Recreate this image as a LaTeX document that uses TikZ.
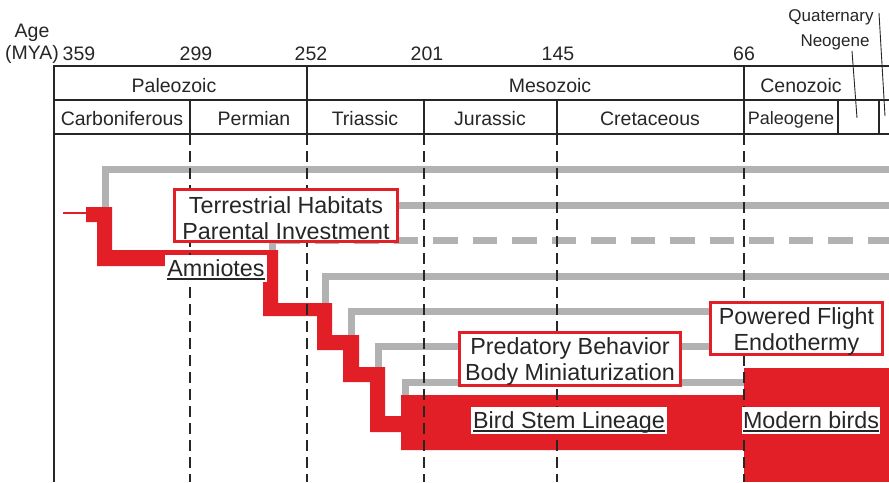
\documentclass[tikz,border=0pt]{standalone}
\usepackage{fontspec}
\setmainfont{Liberation Sans}
\definecolor{ink}{RGB}{38,38,38}
\definecolor{rd}{RGB}{226,30,38}
\definecolor{gbar}{RGB}{178,178,178}
\newcommand\myul[1]{\setbox0\hbox{#1}\rlap{\rule[-3.5pt]{\wd0}{1.6pt}}\box0}
\begin{document}
\begin{tikzpicture}[x=1pt,y=-1pt,
  txt/.style={text=ink, inner sep=0pt, anchor=base, font=\fontsize{19.5}{22}\selectfont},
  smalltxt/.style={text=ink, inner sep=0pt, anchor=base, font=\fontsize{17}{20}\selectfont},
  frame/.style={draw=ink, line width=2pt},
  leader/.style={draw=ink, line width=0.9pt},
  era/.style={draw=ink, line width=1.7pt, dash pattern=on 11pt off 6pt},
  branch/.style={draw=gbar, line width=7pt},
  boxlab/.style={draw=rd, line width=3pt, fill=white, inner sep=0pt},
  boxtext/.style={text=ink, align=center, inner sep=0pt, font=\fontsize{23.3}{26}\selectfont},
  clade/.style={fill=white, inner sep=0pt},
  cladetext/.style={text=ink, inner sep=0pt, anchor=base, font=\fontsize{23.3}{26}\selectfont}
]
\useasboundingbox (0,0) rectangle (889,482);

% ---------- gray side branches ----------
\draw[branch] (105,210) -- (105,169) -- (889,169);
\draw[branch] (390,205) -- (889,205);
\draw[branch] (272,253) -- (272,240);
\draw[branch, dash pattern=on 24.5pt off 15pt, dash phase=36.5pt] (272,240) -- (889,240);
\draw[branch] (325,306) -- (325,276) -- (889,276);
\draw[branch] (351,338) -- (351,311) -- (709,311);
\draw[branch] (378,370) -- (378,346) -- (709,346);
\draw[branch] (405,398) -- (405,382) -- (744,382);

% ---------- red lineage ----------
\draw[rd, line width=2.5pt] (63,213) -- (87,213);
\fill[rd] (86,207) -- (112,207) -- (112,250) -- (278,250) -- (278,303) -- (332,303)
  -- (332,335) -- (359,335) -- (359,367) -- (385,367) -- (385,416) -- (401,416)
  -- (401,395) -- (744,395) -- (744,450) -- (401,450) -- (401,432) -- (370,432)
  -- (370,382) -- (343,382) -- (343,350) -- (317,350) -- (317,316) -- (263,316)
  -- (263,266) -- (97,266) -- (97,222) -- (86,222) -- cycle;
\fill[rd] (744,368) rectangle (889,482);

% ---------- time boundaries ----------
\draw[era] (190,134) -- (190,482);
\draw[era] (307,134) -- (307,482);
\draw[era] (424,134) -- (424,482);
\draw[era] (557,134) -- (557,482);
\draw[era] (744,134) -- (744,482);

% ---------- header table ----------
\draw[frame] (54,66) -- (889,66);
\draw[frame] (54,100) -- (889,100);
\draw[frame] (54,134) -- (889,134);
\draw[frame] (54,65) -- (54,482);
\draw[frame] (307,66) -- (307,134);
\draw[frame] (744,66) -- (744,134);
\draw[frame] (190,100) -- (190,134);
\draw[frame] (424,100) -- (424,134);
\draw[frame] (557,100) -- (557,134);
\draw[frame] (838,100) -- (838,134);
\draw[frame] (879,100) -- (879,134);

\node[txt] (age) at (32,37) {Age};
\node[txt] (mya) at (32,59) {(MYA)};
\node[txt] (n359) at (79,60) {359};
\node[txt] (n299) at (196,60) {299};
\node[txt] (n252) at (311,60) {252};
\node[txt] (n201) at (427,60) {201};
\node[txt] (n145) at (558,60) {145};
\node[txt] (n66) at (744,60) {66};

\node[txt] (paleozoic) at (174,92) {Paleozoic};
\node[txt] (mesozoic) at (550,92) {Mesozoic};
\node[txt] (cenozoic) at (801,92) {Cenozoic};

\node[txt] (carb) at (122,125) {Carboniferous};
\node[txt] (perm) at (254,125) {Permian};
\node[txt] (tria) at (365,125) {Triassic};
\node[txt] (jura) at (490,125) {Jurassic};
\node[txt] (cret) at (650,125) {Cretaceous};
\node[txt, font=\fontsize{18}{20}\selectfont] (paleog) at (791,124) {Paleogene};

\node[smalltxt] (quat) at (831,21) {Quaternary};
\node[smalltxt] (neog) at (835,46) {Neogene};
\coordinate (quatA) at (879,13);
\coordinate (quatB) at (885,116);
\coordinate (neogA) at (852,51);
\coordinate (neogB) at (857,118);
\draw[leader] (quatA) -- (quatB);
\draw[leader] (neogA) -- (neogB);

% ---------- trait boxes ----------
\node[boxlab, minimum width=223pt, minimum height=52pt] (terr) at (286,215.5) {};
\node[boxtext] (terrT) at ([yshift=-2.5pt]terr.center) {Terrestrial Habitats\\Parental Investment};
\node[boxlab, minimum width=221pt, minimum height=53pt] (pred) at (570,359) {};
\node[boxtext] (predT) at ([yshift=-2.5pt]pred.center) {Predatory Behavior\\Body Miniaturization};
\node[boxlab, minimum width=172pt, minimum height=52pt] (flight) at (796.5,328.5) {};
\node[boxtext] (flightT) at ([yshift=-2.5pt]flight.center) {Powered Flight\\Endothermy};

% ---------- clade labels ----------
\node[clade, minimum width=102pt, minimum height=27pt] (amn) at (216,268) {};
\node[cladetext] (amnT) at (216,276) {\myul{Amniotes}};
\node[clade, minimum width=196pt, minimum height=27pt] (stem) at (569,420) {};
\node[cladetext] (stemT) at (569,428) {\myul{Bird Stem Lineage}};
\node[clade, minimum width=138pt, minimum height=27pt] (modern) at (811,420) {};
\node[cladetext] (modernT) at (811,428) {\myul{Modern birds}};
\end{tikzpicture}
\end{document}
